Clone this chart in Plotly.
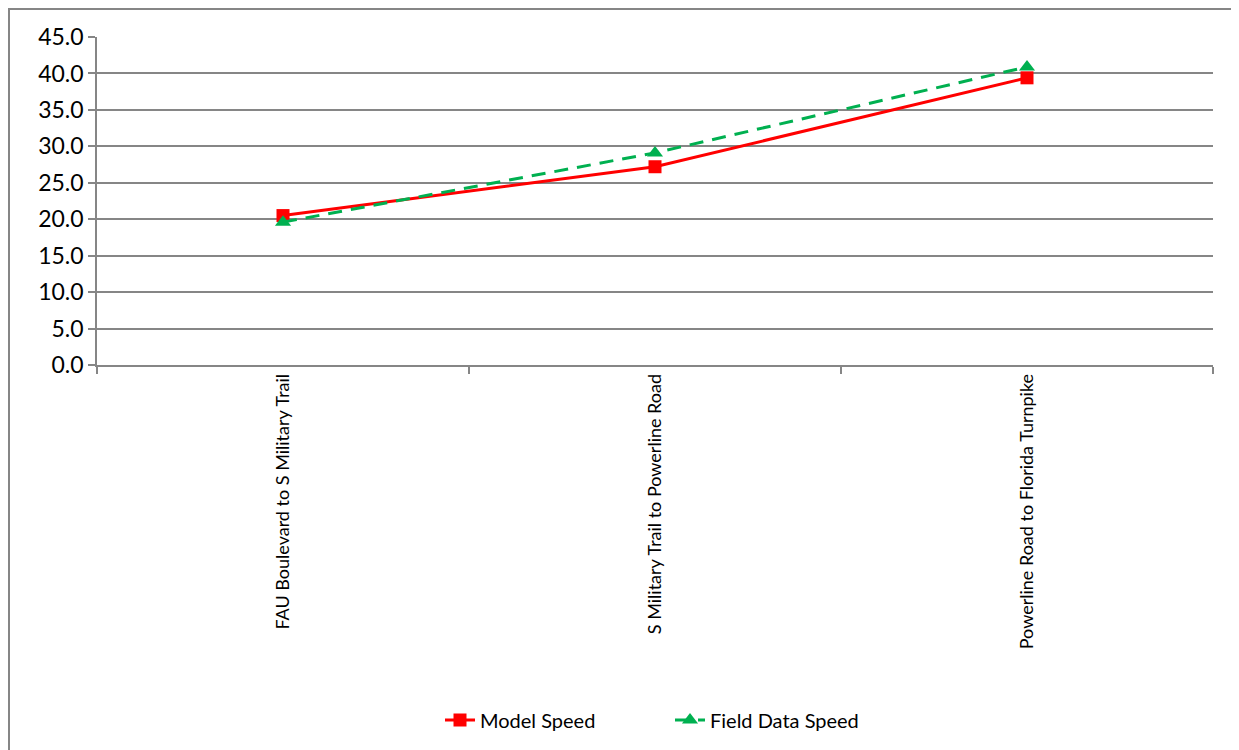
import plotly.graph_objects as go

categories = ["FAU Boulevard to S Military Trail",
              "S Military Trail to Powerline Road",
              "Powerline Road to Florida Turnpike"]
model_speed = [20.5, 27.2, 39.4]
field_speed = [19.6, 29.1, 40.9]
y_ticks = [0, 5, 10, 15, 20, 25, 30, 35, 40, 45]

W, H = 1239, 750
OFF = 8  # page body margin
L, R, T, B = 97 - OFF, 1213 - OFF, 37 - OFF, 365 - OFF
pw, ph = R - L, B - T

fig = go.Figure()
fig.add_trace(go.Scatter(
    x=categories, y=model_speed, name="Model Speed", mode="lines+markers",
    line=dict(color="#ff0000", width=3),
    marker=dict(symbol="square", size=13, color="#ff0000"),
))
fig.add_trace(go.Scatter(
    x=categories, y=field_speed, name="Field Data Speed", mode="lines+markers",
    line=dict(color="#00b050", width=3, dash="14px,9px"),
    marker=dict(symbol="triangle-up", size=14, color="#00b050"),
))

font_family = "Lato, 'Open Sans', sans-serif"
fig.update_layout(
    width=W, height=H,
    margin=dict(l=L, r=W - R, t=T, b=H - B),
    paper_bgcolor="white", plot_bgcolor="white",
    font=dict(family=font_family, color="black"),
    showlegend=True,
    legend=dict(orientation="h", x=(670 - OFF - L) / pw, xanchor="center",
                y=(B - (720 - OFF)) / ph, yanchor="middle",
                font=dict(size=20, family=font_family),
                entrywidth=185, entrywidthmode="pixels",
                traceorder="normal"),
    xaxis=dict(type="category", range=[-0.5, 2.5], tickson="boundaries",
               ticks="outside", ticklen=7, tickcolor="#868686", tickwidth=1.5,
               showline=True, linecolor="#868686", linewidth=1.5,
               showgrid=False, tickangle=-90,
               tickfont=dict(size=18, family=font_family)),
    yaxis=dict(range=[0, 45], tickvals=y_ticks,
               ticktext=[f"{v:.1f}" for v in y_ticks],
               ticks="outside", ticklen=7, tickcolor="#868686", tickwidth=1.5,
               showline=True, linecolor="#868686", linewidth=1.5,
               showgrid=True, gridcolor="#868686", gridwidth=1.5,
               zeroline=False,
               tickfont=dict(size=23, family=font_family)),
)

# outer chart-area border (extends past right/bottom edges like the reference crop)
fig.add_shape(type="rect", xref="paper", yref="paper",
              x0=(1 - L) / pw, x1=(W + 20 - L) / pw,
              y0=(B - (H + 20)) / ph, y1=1 + (T - 1) / ph,
              line=dict(color="#868686", width=2), fillcolor="rgba(0,0,0,0)",
              layer="below")

fig.write_html("out.html")
